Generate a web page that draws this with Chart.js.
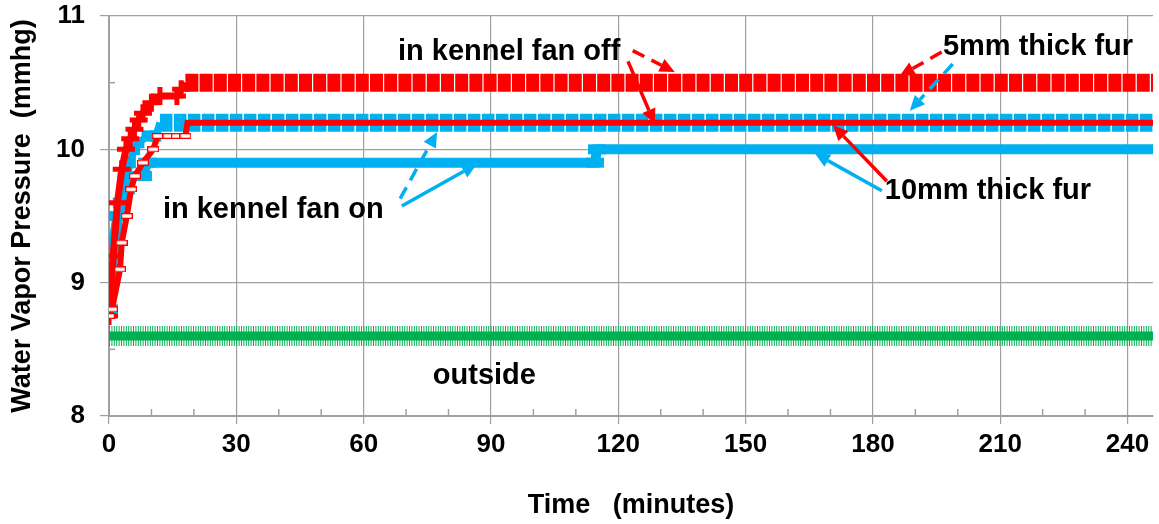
<!DOCTYPE html>
<html>
<head>
<meta charset="utf-8">
<script src="https://cdn.jsdelivr.net/npm/chart.js@4.4.0/dist/chart.umd.min.js"></script>
<style>
html, body { margin: 0; padding: 0; background: #fff; }
</style>
</head>
<body>
<canvas id="chart1" width="1159" height="524"></canvas>
<script>
const RED = '#FF0000', BLUE = '#00B0F0', GREEN = '#00B050', GRID = '#a0a0a0'
const FONT = "'Liberation Sans', Arial, sans-serif"

const xTicks = [0, 30, 60, 90, 120, 150, 180, 210, 240]
const xMinor = [10, 20, 40, 50, 70, 80, 100, 110, 130, 140, 160, 170, 190, 200, 220, 230]
const yTicks = [8, 9, 10, 11]
const yMinor = [8.5, 9.5, 10.5]

// in kennel fan off, 5mm thick fur
const timeOff5 = [0, 1, 2, 3, 4, 5, 6, 7, 8, 10, 12, 16, 17, 18, 60, 120, 180, 246]
const vpOff5 = [8.75, 9.2, 9.6, 9.85, 10.0, 10.08, 10.15, 10.22, 10.27, 10.35, 10.4, 10.4, 10.45, 10.5, 10.5, 10.5, 10.5, 10.5]
// in kennel fan off, 10mm thick fur
const timeOff10 = [0, 0.7, 2.6, 3, 4.2, 5.2, 6.1, 8, 10.4, 11.5, 14, 16, 18, 18.5, 60, 120, 180, 246]
const vpOff10 = [8.75, 8.8, 9.1, 9.3, 9.5, 9.7, 9.8, 9.9, 10.0, 10.1, 10.1, 10.1, 10.1, 10.2, 10.2, 10.2, 10.2, 10.2]
// in kennel fan on, 5mm thick fur
const timeOn5 = [0, 1, 2, 3, 4, 5, 6, 7, 9, 11, 12, 60, 120, 180, 246]
const vpOn5 = [8.8, 9.1, 9.4, 9.6, 9.75, 9.9, 10.0, 10.05, 10.1, 10.1, 10.2, 10.2, 10.2, 10.2, 10.2]
// in kennel fan on, 10mm thick fur
const timeOn10 = [0, 0.5, 1, 2, 3, 4, 5, 8, 9, 60, 114.5, 115, 180, 246]
const vpOn10 = [8.8, 9.1, 9.3, 9.5, 9.6, 9.7, 9.8, 9.8, 9.9, 9.9, 9.9, 10.0, 10.0, 10.0]
// outside
const timeOut = [0, 30, 60, 90, 120, 150, 180, 210, 246]
const vpOut = [8.6, 8.6, 8.6, 8.6, 8.6, 8.6, 8.6, 8.6, 8.6]

// labels and arrows, placed in data units (minutes, mmhg)
const notes = [
    { text: 'in kennel fan off', x: 68.1, y: 10.73 },
    { text: '5mm thick fur', x: 196.5, y: 10.77 },
    { text: '10mm thick fur', x: 182.8, y: 9.69 },
    { text: 'in kennel fan on', x: 12.7, y: 9.545 },
    { text: 'outside', x: 76.3, y: 8.3 }
]
const arrows = [
    { from: [123.4, 10.74], to: [133.3, 10.58], color: RED, dash: true },
    { from: [122.3, 10.66], to: [128.6, 10.19], color: RED, dash: false },
    { from: [196.2, 10.73], to: [186.3, 10.55], color: RED, dash: true },
    { from: [198.8, 10.64], to: [188.7, 10.29], color: BLUE, dash: true },
    { from: [183.3, 9.76], to: [170.6, 10.18], color: RED, dash: false },
    { from: [182.1, 9.69], to: [166.3, 9.97], color: BLUE, dash: false },
    { from: [68.6, 9.63], to: [77.3, 10.13], color: BLUE, dash: true },
    { from: [69.0, 9.575], to: [86.7, 9.89], color: BLUE, dash: false }
]

function pts(xs, ys) {
    return xs.map((x, i) => ({ x: x, y: ys[i] }))
}

// little open rectangle used as marker on the 10mm fan off line
const rectMarker = document.createElement('canvas')
rectMarker.width = 12
rectMarker.height = 6
const mc = rectMarker.getContext('2d')
mc.fillStyle = '#fff'
mc.fillRect(0, 0, 12, 6)
mc.strokeStyle = RED
mc.lineWidth = 1.3
mc.strokeRect(0.65, 0.65, 10.7, 4.7)

function drawArrow(ctx, x0, y0, x1, y1, color, dash) {
    const ang = Math.atan2(y1 - y0, x1 - x0)
    const len = 15, half = 7
    const bx = x1 - len * Math.cos(ang), by = y1 - len * Math.sin(ang)
    ctx.strokeStyle = color
    ctx.fillStyle = color
    ctx.lineWidth = 3.5
    ctx.setLineDash(dash ? [13, 8] : [])
    ctx.beginPath()
    ctx.moveTo(x0, y0)
    ctx.lineTo(bx, by)
    ctx.stroke()
    ctx.setLineDash([])
    ctx.beginPath()
    ctx.moveTo(x1, y1)
    ctx.lineTo(bx + half * Math.sin(ang), by - half * Math.cos(ang))
    ctx.lineTo(bx - half * Math.sin(ang), by + half * Math.cos(ang))
    ctx.closePath()
    ctx.fill()
}

const extras = {
    id: 'extras',
    beforeDatasetsDraw(chart) {
        const { ctx, scales: { x, y } } = chart
        ctx.save()
        ctx.strokeStyle = GRID
        ctx.lineWidth = 1.5
        xMinor.forEach(v => {
            const px = x.getPixelForValue(v)
            ctx.beginPath(); ctx.moveTo(px, y.bottom); ctx.lineTo(px, y.bottom - 7); ctx.stroke()
        })
        yMinor.forEach(v => {
            const py = y.getPixelForValue(v)
            ctx.beginPath(); ctx.moveTo(x.left, py); ctx.lineTo(x.left + 6, py); ctx.stroke()
        })
        // x tick labels, drawn here so they do not narrow the plot area
        ctx.font = 'bold 26px ' + FONT
        ctx.fillStyle = '#000'
        ctx.textAlign = 'center'
        ctx.textBaseline = 'middle'
        xTicks.forEach(v => ctx.fillText(String(v), x.getPixelForValue(v), y.bottom + 29))
        ctx.restore()
    },
    afterDraw(chart) {
        const { ctx, scales: { x, y } } = chart
        ctx.save()
        arrows.forEach(a => drawArrow(ctx,
            x.getPixelForValue(a.from[0]), y.getPixelForValue(a.from[1]),
            x.getPixelForValue(a.to[0]), y.getPixelForValue(a.to[1]), a.color, a.dash))
        ctx.font = 'bold 29px ' + FONT
        ctx.fillStyle = '#000'
        ctx.textBaseline = 'middle'
        notes.forEach(n => ctx.fillText(n.text, x.getPixelForValue(n.x), y.getPixelForValue(n.y)))
        ctx.restore()
    }
}

const data = {
    datasets: [
        {
            // 10mm fan off: red line, open rectangle markers while rising
            data: pts(timeOff10, vpOff10),
            borderColor: RED,
            borderWidth: 6,
            pointStyle: rectMarker,
            pointRadius: c => c.raw.x <= 18 ? 5 : 0
        },
        {
            // 5mm fan off: red plus markers, thick band once flat
            data: pts(timeOff5, vpOff5),
            borderColor: RED,
            backgroundColor: RED,
            borderWidth: 7,
            pointStyle: 'cross',
            pointRadius: c => c.raw.x <= 17 ? 9 : 0,
            pointBorderWidth: 5,
            segment: {
                borderWidth: c => c.p0.parsed.x >= 18 ? 18 : undefined,
                borderDash: c => c.p0.parsed.x >= 18 ? [13, 1.2] : undefined
            }
        },
        {
            // 5mm fan on: blue squares, thick band once flat
            data: pts(timeOn5, vpOn5),
            borderColor: BLUE,
            backgroundColor: BLUE,
            borderWidth: 7,
            pointStyle: 'rect',
            pointRadius: c => c.raw.x <= 11 ? 8 : 0,
            pointBorderWidth: 0,
            segment: {
                borderWidth: c => c.p0.parsed.x >= 12 ? 18 : undefined,
                borderDash: c => c.p0.parsed.x >= 12 ? [12.5, 1.5] : undefined
            }
        },
        {
            // 10mm fan on: thick blue line with dash markers
            data: pts(timeOn10, vpOn10),
            borderColor: BLUE,
            backgroundColor: BLUE,
            borderWidth: 10,
            borderCapStyle: 'round',
            pointStyle: 'line',
            pointRadius: c => (c.raw.x <= 9 || (c.raw.x >= 114 && c.raw.x <= 116)) ? 9 : 0,
            pointBorderWidth: 10
        },
        {
            // outside: comb of small vertical markers
            data: pts(timeOut, vpOut),
            borderColor: GREEN,
            borderWidth: 20,
            borderDash: [1, 1.4],
            pointRadius: 0
        },
        {
            data: pts(timeOut, vpOut),
            borderColor: GREEN,
            borderWidth: 9,
            borderCapStyle: 'round',
            pointRadius: 0
        }
    ]
}

const options = {
    responsive: false,
    animation: false,
    layout: { autoPadding: false, padding: { left: 0, right: 6, top: 16, bottom: 0 } },
    elements: { line: { tension: 0, fill: false } },
    scales: {
        x: {
            type: 'linear',
            min: 0,
            max: 246,
            afterBuildTicks: s => { s.ticks = xTicks.map(v => ({ value: v })) },
            afterFit: s => { s.height = 108 },
            grid: { color: GRID, lineWidth: 1.2, tickLength: 8 },
            border: { color: GRID, width: 2 },
            ticks: { display: false },
            title: { display: true, text: 'Time   (minutes)', color: '#000', font: { family: FONT, size: 27, weight: 'bold' }, padding: { top: 0, bottom: 2 } }
        },
        y: {
            min: 8,
            max: 11,
            afterBuildTicks: s => { s.ticks = yTicks.map(v => ({ value: v })) },
            afterFit: s => { s.width = 109; s.paddingTop = 0; s.paddingBottom = 0 },
            grid: { color: GRID, lineWidth: 1.2, tickLength: 9 },
            border: { color: GRID, width: 2 },
            ticks: { color: '#000', font: { family: FONT, size: 26, weight: 'bold' }, padding: 15 },
            title: { display: true, text: 'Water Vapor Pressure  (mmhg)', color: '#000', font: { family: FONT, size: 27, weight: 'bold' }, padding: { top: 6, bottom: 0 } }
        }
    },
    plugins: {
        legend: { display: false },
        tooltip: { enabled: false }
    }
}

new Chart('chart1', { type: 'line', data, options, plugins: [extras] })
</script>
</body>
</html>
